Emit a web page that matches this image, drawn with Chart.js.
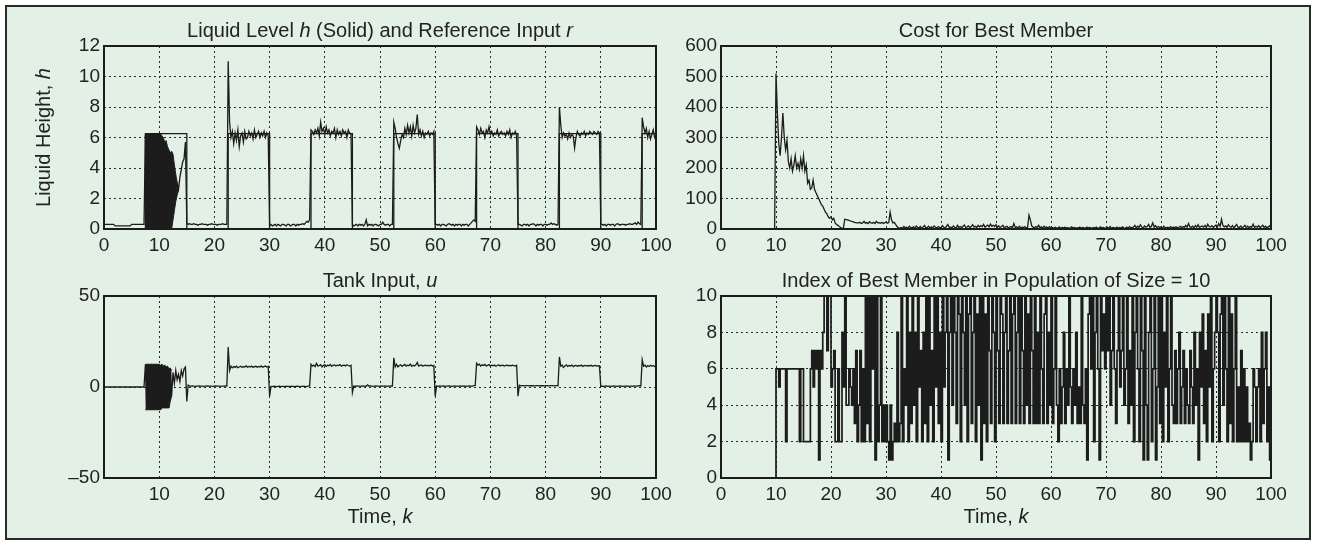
<!DOCTYPE html>
<html>
<head>
<meta charset="utf-8">
<script src="https://cdn.jsdelivr.net/npm/chart.js@4.4.0/dist/chart.umd.min.js"></script>
<style>
  body { margin: 0; background: #fff; width: 1317px; height: 542px; overflow: hidden; position: relative; }
  #frame { position: absolute; left: 5px; top: 5px; width: 1306px; height: 535px; box-sizing: border-box; border: 2px solid #2a2a2a; background: #e2f0e6; }
  canvas { position: absolute; }
</style>
</head>
<body>
<div id="frame"></div>
<canvas id="levelChart"></canvas>
<canvas id="costChart"></canvas>
<canvas id="inputChart"></canvas>
<canvas id="indexChart"></canvas>
<script>
// sampled every 0.25 time units
const sampleStep = 0.25;

const levelHeight = [
  0.3,0.3,0.3,0.3,0.3,0.3,0.3,0.3, 0.2,0.2,0.2,0.2,0.2,0.2,0.2,0.2,0.2,0.2,0.2,0.2, 0.3,0.3,0.3,0.3,0.3,0.3,0.3,0.3,0.3,0.3,
  6.2,0,6.2,0,6.2,0,6.2,0,6.2,0,6.1,0,5.9,0.1,5.6,0.2,5.2,0.4,5.0,0.8,
  2.0,3.5,2.4,3.0,2.6,3.4,3.9,4.4,4.6,5.7,
  0.4,0.3,0.35,0.3,0.3,0.35,0.3,0.3,0.25,0.3, 0.3,0.35,0.3,0.3,0.3,0.25,0.3,0.3,0.35,0.3, 0.3,0.3,0.25,0.3,0.3,0.3,0.35,0.3,0.3,0.3,
  11.0,7.0,6.0,6.4,5.6,6.3,5.8,6.5,5.4,6.1, 6.3,5.7,6.4,5.9,6.0,6.4,6.1,6.3,5.9,6.5, 6.0,6.2,6.4,6.0,6.3,6.1,6.4,6.0,6.3,6.1,
  0.2,0.3,0.2,0.25,0.3,0.2,0.3,0.25,0.2,0.3, 0.3,0.25,0.2,0.3,0.3,0.2,0.25,0.3,0.3,0.2, 0.3,0.25,0.3,0.3,0.35,0.3,0.4,0.5,0.45,0.6,
  6.5,6.4,6.2,6.5,6.3,6.6,6.1,7.0,6.4,6.6, 6.2,6.7,6.3,6.5,6.1,6.4,6.3,6.6,6.0,6.5, 6.2,6.4,6.1,6.5,6.3,6.4,6.0,6.5,6.3,6.2,
  0.3,0.2,0.25,0.3,0.2,0.3,0.25,0.3,0.2,0.3, 0.6,0.2,0.3,0.25,0.3,0.2,0.3,0.3,0.25,0.2, 0.3,0.3,0.45,0.3,0.25,0.3,0.3,0.2,0.3,0.3,
  7.0,6.6,6.0,5.6,5.3,5.8,6.2,6.0,6.6,6.2, 6.8,6.3,6.7,6.1,6.8,6.3,6.6,7.5,6.2,6.5, 6.1,6.4,6.0,6.3,6.2,6.4,6.1,6.3,6.2,6.4,
  0.3,0.3,0.25,0.3,0.2,0.3,0.3,0.25,0.2,0.3, 0.35,0.3,0.25,0.3,0.2,0.3,0.25,0.3,0.3,0.2, 0.3,0.25,0.3,0.3,0.2,0.3,0.4,0.5,0.6,0.5,
  6.7,6.5,6.2,6.6,6.3,6.4,6.0,6.5,6.3,6.7, 6.2,6.4,6.1,6.3,6.2,6.5,6.1,6.3,6.4,6.2, 6.3,6.1,6.4,6.2,6.5,6.0,6.3,6.2,6.4,6.1,
  0.3,0.3,0.25,0.2,0.3,0.3,0.25,0.3,0.2,0.3, 0.3,0.35,0.3,0.2,0.3,0.25,0.3,0.3,0.2,0.3, 0.3,0.25,0.3,0.3,0.4,0.3,0.35,0.3,0.25,0.3,
  8.0,6.8,6.0,6.3,6.1,6.2,5.9,6.3,6.0,6.2, 6.1,5.3,6.0,6.4,6.2,6.1,6.3,6.2,6.4,6.1, 6.3,6.2,6.4,6.3,6.2,6.4,6.3,6.2,6.4,6.3,
  0.3,0.3,0.25,0.3,0.2,0.3,0.3,0.25,0.3,0.3, 0.2,0.3,0.35,0.3,0.25,0.3,0.3,0.3,0.25,0.3, 0.3,0.35,0.3,0.3,0.35,0.4,0.3,0.45,0.35,0.3,
  7.3,6.7,6.3,6.6,6.0,6.4,5.9,6.2,6.5,6.0,5.8
];

// envelope of the fast oscillation at the start, from k = 7.5
const burstStart = 7.5;
const levelBurstTop = [6.25,6.25,6.25,6.25,6.25,6.25,6.25,6.25,6.25,6.25,6.25,6.25, 6.1,6.0,5.7,5.8,5.4,5.2,5.0,5.1,4.9, 4.2,3.6,3.0,2.6];
const levelBurstLow = [0,0,0,0,0,0,0,0,0,0,0,0,0,0,0,0,0,0,0,0, 0.6,1.2,1.8,2.2,2.6];

const refTimes = [0, 7.5, 7.5, 15, 15, 22.5, 22.5, 30, 30, 37.5, 37.5, 45, 45, 52.5, 52.5, 60, 60, 67.5, 67.5, 75, 75, 82.5, 82.5, 90, 90, 97.5, 97.5, 100];
const refValues = [0, 0, 6.25, 6.25, 0, 0, 6.25, 6.25, 0, 0, 6.25, 6.25, 0, 0, 6.25, 6.25, 0, 0, 6.25, 6.25, 0, 0, 6.25, 6.25, 0, 0, 6.25, 6.25];

const tankInput = [
  0,0,0,0,0,0,0,0,0,0, 0,0,0,0,0,0,0,0,0,0, 0,0,0,0,0,0,0,0,0,0,
  12.5,-12.5,12.5,-12.5,12.5,-12.5,12.5,-12.5,12.5,-12.5,12.5,-12.5,12.5,-11.5,12,-11.5,11,-11.5,10,-5,
  8,2,9,4,7,3,9,6,10,11,
  -8,1.0,0.5,0.5,0.6,0.5,0.4,0.5,0.5,0.6, 0.5,0.5,0.4,0.5,0.5,0.6,0.5,0.5,0.5,0.4, 0.5,0.6,0.5,0.5,0.5,0.4,0.5,0.5,0.6,0.5,
  22,9,11.5,10.5,11.2,10.8,11.5,10.6,11.0,11.4, 10.8,11.2,11.0,11.6,10.9,11.3,11.0,11.5,10.8,11.2, 11.4,10.9,11.3,11.0,11.6,10.9,11.2,11.5,11.0,11.3,
  -5,0.3,0.2,0.4,0.3,0.2,0.3,0.4,0.2,0.3, 0.3,0.2,0.4,0.3,0.3,0.2,0.4,0.3,0.2,0.3, 0.4,0.3,0.2,0.3,0.3,0.4,0.2,0.3,0.5,0.6,
  12.5,11.5,12.0,11.2,13.0,11.5,11.8,12.3,11.0,11.9, 12.2,11.4,12.0,11.7,12.4,11.3,11.9,12.1,11.5,12.0, 11.8,12.3,11.4,11.9,12.0,11.6,12.2,11.8,11.5,11.9,
  -3,0.5,0.4,0.6,0.5,0.5,0.4,0.6,0.5,0.5, 0.4,1.2,0.5,0.6,0.5,0.4,0.5,0.6,0.5,0.5, 0.4,0.6,0.5,0.5,0.6,0.4,0.5,0.5,0.6,0.5,
  16,11,12.5,11.0,11.8,12.2,11.3,11.9,12.4,11.5, 12.0,11.7,12.6,11.4,12.0,11.6,12.2,13.5,11.5,11.9, 12.1,11.4,11.8,12.0,11.6,11.9,11.7,12.1,11.5,11.8,
  -5,0.5,0.4,0.6,0.5,0.5,0.6,0.4,0.5,0.5, 0.6,0.5,0.4,0.5,0.6,0.5,0.5,0.4,0.6,0.5, 0.5,0.6,0.4,0.5,0.5,0.6,0.5,0.5,0.7,0.8,
  13,12.0,12.5,11.5,12.2,11.8,12.4,11.6,11.9,12.3, 11.5,12.0,11.7,12.1,11.4,11.8,12.2,11.6,11.9,12.0, 11.5,11.8,12.1,11.7,11.9,11.6,12.0,11.8,11.5,11.9,
  -5,1.0,0.6,0.8,0.7,0.6,0.8,0.7,0.6,0.8, 0.7,0.7,0.6,0.8,0.7,0.6,0.8,0.7,0.7,0.6, 0.8,0.7,0.6,0.7,0.8,0.7,0.6,0.7,0.8,0.7,
  16.5,11.5,12.0,10.8,11.6,12.2,11.3,11.8,11.5,12.0, 11.2,11.7,11.9,11.4,11.8,11.6,12.0,11.3,11.7,11.9, 11.5,11.8,11.6,11.9,11.4,11.7,11.8,11.5,11.7,11.6,
  0.3,0.5,0.4,0.5,0.6,0.4,0.5,0.5,0.4,0.6, 0.5,0.5,0.4,0.5,0.6,0.5,0.4,0.5,0.5,0.6, 0.4,0.5,0.5,0.4,0.6,0.5,0.5,0.6,0.7,0.6,
  15,11.5,12,11,11.8,11.3,11.9,11.5,11.7,11.2,11.6
];

const inputBurstTop = [12.5,12.5,12.5,12.5,12.5,12.5,12.5,12.5,12.5,12.5,12.5,12.0,12.5,11.5,12.0,11.0,11.5,10.0,10.5,9.0];
const inputBurstLow = [-12.5,-12.5,-12.5,-12.5,-12.5,-12.5,-12.5,-12.5,-12.5,-12.5,-12.5,-12.5,-11.5,-11.5,-11.5,-11.5,-11.5,-11.5,-8,-5];

const bestCost = [
  0,0,0,0,0,0,0,0,0,0, 0,0,0,0,0,0,0,0,0,0, 0,0,0,0,0,0,0,0,0,0, 0,0,0,0,0,0,0,0,0,0,
  510,380,280,240,300,380,300,260,290,220, 200,230,190,210,240,200,215,195,230,200,
  240,190,210,150,160,130,135,160,130,120, 110,100,90,80,75,65,55,50,40,35,
  40,30,35,20,15,12,8,5,3,2, 32,31,30,28,27,25,24,22,21,20,
  20,22,18,20,25,19,21,18,24,20, 19,22,18,25,20,21,19,22,18,20, 23,19,21,55,30,20,22,15,8,4,
  3,5,2,8,4,6,3,9,5,4, 7,3,10,5,4,8,2,6,12,4, 5,9,3,7,4,10,6,3,8,5,
  4,11,6,3,9,15,5,7,4,10, 6,3,12,5,8,4,9,13,5,7, 10,4,8,14,6,9,5,12,7,11,
  8,15,6,10,13,7,16,9,12,8, 14,6,10,5,8,12,4,7,9,3, 6,8,4,18,5,7,3,9,4,6,
  5,8,3,6,45,30,10,6,4,8, 5,12,4,7,3,9,5,6,4,8, 3,5,2,6,4,3,7,2,5,4,
  6,3,5,2,4,7,3,5,2,4, 3,6,2,5,4,2,6,3,5,4, 2,5,3,6,2,4,7,3,5,2,
  4,6,3,8,2,5,4,3,6,2, 5,3,7,4,2,6,3,8,4,5, 6,12,4,9,5,14,7,3,10,6,
  8,15,5,9,20,6,11,4,8,5, 7,3,9,5,4,6,3,8,4,6, 5,7,3,6,9,4,8,5,12,6,
  18,7,5,9,4,11,6,14,5,8, 10,6,12,5,16,8,7,11,5,9, 13,6,18,9,32,12,7,10,5,14,
  8,6,11,4,9,15,6,5,10,4, 7,12,5,9,4,8,6,16,5,9, 6,11,4,8,12,5,9,4,7,10,
  5
];

const indexStart = 9.75;
const bestIndex = [
  0,
  6,6,5,6,6,6,6,2,6,6, 6,6,6,6,6,6,6,2,6,6, 2,2,2,2,2,6,7,5,7,6, 7,1,7,6,8,10,10,7,10,10,
  5,6,7,2,2,6,2,2,8,5, 10,4,4,6,5,4,6,3,7,2, 4,7,2,6,2,10,3,10,2,10, 6,10,1,10,2,4,10,2,4,2,
  4,2,1,4,1,2,3,2,8,2, 3,10,2,6,4,10,2,8,3,10, 4,8,2,10,5,7,2,8,3,10, 2,10,4,7,2,10,5,10,3,8,
  2,10,5,8,10,1,8,10,4,10, 8,3,10,9,2,10,8,4,10,2, 9,10,3,8,10,2,9,4,10,1, 10,3,9,2,10,7,3,10,8,2,
  10,7,3,10,9,3,8,10,3,7, 10,3,9,10,3,8,10,3,10,7, 3,10,4,9,3,10,7,3,10,3, 8,3,10,6,3,9,10,3,8,4,
  10,3,6,10,4,2,6,3,5,8, 3,6,4,10,5,3,6,4,8,3, 5,3,10,4,3,6,1,9,10,6, 10,2,8,10,6,1,10,7,9,6,
  10,7,10,4,7,10,6,3,7,10, 5,7,10,4,6,10,3,7,4,10, 2,8,10,6,2,10,7,1,10,4, 1,8,10,2,6,10,1,5,10,3,
  10,2,8,5,10,2,6,10,4,3, 7,3,6,8,3,5,7,3,6,4, 3,7,5,3,8,4,6,1,8,5, 9,3,7,2,9,5,10,2,6,8,
  10,8,2,9,10,4,10,6,2,10, 3,9,2,6,10,2,5,2,7,2, 6,2,5,2,3,1,2,6,5,2, 5,6,2,8,3,6,8,2,5,1,
  1
];

const fontFamily = '"Liberation Sans", Arial, Helvetica, sans-serif';
const inkColor = '#1c1c1c';

function series(start, values) {
  return values.map((v, i) => ({ x: start + i * sampleStep, y: v }));
}

function pairs(xs, ys) {
  return xs.map((x, i) => ({ x: x, y: ys[i] }));
}

function drawRich(ctx, parts, cx, cy, size) {
  const font = it => (it ? 'italic ' : '') + size + 'px ' + fontFamily;
  let total = 0;
  parts.forEach(([t, it]) => { ctx.font = font(it); total += ctx.measureText(t).width; });
  let x = cx - total / 2;
  ctx.fillStyle = '#222';
  ctx.textBaseline = 'middle';
  ctx.textAlign = 'left';
  parts.forEach(([t, it]) => {
    ctx.font = font(it);
    ctx.fillText(t, x, cy);
    x += ctx.measureText(t).width;
  });
}

const boxPlugin = {
  id: 'plotBox',
  afterDatasetsDraw(chart) {
    const { ctx, chartArea: a } = chart;
    ctx.save();
    ctx.strokeStyle = inkColor;
    ctx.lineWidth = 2;
    ctx.strokeRect(a.left, a.top, a.right - a.left, a.bottom - a.top);
    ctx.restore();
  }
};

const textPlugin = {
  id: 'richText',
  afterDraw(chart, args, opts) {
    const { ctx, chartArea: a } = chart;
    const cx = (a.left + a.right) / 2;
    ctx.save();
    if (opts.title) drawRich(ctx, opts.title, cx, a.top - 15, 20);
    if (opts.xTitle) drawRich(ctx, opts.xTitle, cx, a.bottom + 39, 20);
    if (opts.yTitle) {
      ctx.translate(a.left - 60, (a.top + a.bottom) / 2);
      ctx.rotate(-Math.PI / 2);
      drawRich(ctx, opts.yTitle, 0, 0, 20);
    }
    ctx.restore();
  }
};

function makeChart(id, rect, padLeft, datasets, yScale, xTickCallback, text) {
  const padTop = 40, padRight = 30, padBottom = 55;
  const canvas = document.getElementById(id);
  canvas.width = rect[2] - rect[0] + padLeft + padRight;
  canvas.height = rect[3] - rect[1] + padTop + padBottom;
  canvas.style.left = (rect[0] - padLeft) + 'px';
  canvas.style.top = (rect[1] - padTop) + 'px';

  const tickFont = { family: fontFamily, size: 19 };
  const grid = { color: '#2a2a2a', lineWidth: 1, drawTicks: false };
  const border = { display: false, dash: [2, 3] };

  return new Chart(canvas, {
    type: 'line',
    data: { datasets: datasets },
    options: {
      responsive: false,
      animation: false,
      events: [],
      layout: { padding: { left: 0, top: padTop, right: padRight, bottom: 0 } },
      elements: {
        point: { radius: 0 },
        line: { borderWidth: 1.3, borderColor: inkColor, backgroundColor: inkColor, tension: 0, fill: false }
      },
      plugins: {
        legend: { display: false },
        tooltip: { enabled: false },
        richText: text
      },
      scales: {
        x: {
          type: 'linear', min: 0, max: 100,
          afterFit: s => { s.height = padBottom; },
          ticks: { stepSize: 10, autoSkip: false, maxRotation: 0, padding: 5, color: '#222', font: tickFont, callback: xTickCallback },
          grid: grid, border: border
        },
        y: {
          min: yScale.min, max: yScale.max,
          afterFit: s => { s.width = padLeft; },
          ticks: { stepSize: yScale.step, autoSkip: false, padding: 4, color: '#222', font: tickFont, callback: yScale.callback },
          grid: grid, border: border
        }
      }
    },
    plugins: [boxPlugin, textPlugin]
  });
}

const plainTick = v => v;

makeChart('levelChart', [104, 46, 656, 229], 100, [
  { data: series(burstStart, levelBurstTop), fill: '+1', borderWidth: 1 },
  { data: series(burstStart, levelBurstLow), borderWidth: 1 },
  { data: pairs(refTimes, refValues) },
  { data: series(0, levelHeight) }
], { min: 0, max: 12, step: 2, callback: plainTick }, plainTick, {
  title: [['Liquid Level ', false], ['h', true], [' (Solid) and Reference Input ', false], ['r', true]],
  yTitle: [['Liquid Height, ', false], ['h', true]]
});

makeChart('costChart', [721, 46, 1271, 229], 70, [
  { data: series(0, bestCost) }
], { min: 0, max: 600, step: 100, callback: plainTick }, plainTick, {
  title: [['Cost for Best Member', false]]
});

makeChart('inputChart', [104, 296, 656, 478], 70, [
  { data: series(burstStart, inputBurstTop), fill: '+1', borderWidth: 1 },
  { data: series(burstStart, inputBurstLow), borderWidth: 1 },
  { data: series(0, tankInput) }
], { min: -50, max: 50, step: 50, callback: v => (v < 0 ? '\u2013' + Math.abs(v) : v) },
  v => (v === 0 ? '' : v), {
  title: [['Tank Input, ', false], ['u', true]],
  xTitle: [['Time, ', false], ['k', true]]
});

makeChart('indexChart', [721, 296, 1271, 478], 70, [
  { data: series(indexStart, bestIndex), stepped: true, borderWidth: 1.7 }
], { min: 0, max: 10, step: 2, callback: plainTick }, plainTick, {
  title: [['Index of Best Member in Population of Size = 10', false]],
  xTitle: [['Time, ', false], ['k', true]]
});
</script>
</body>
</html>
